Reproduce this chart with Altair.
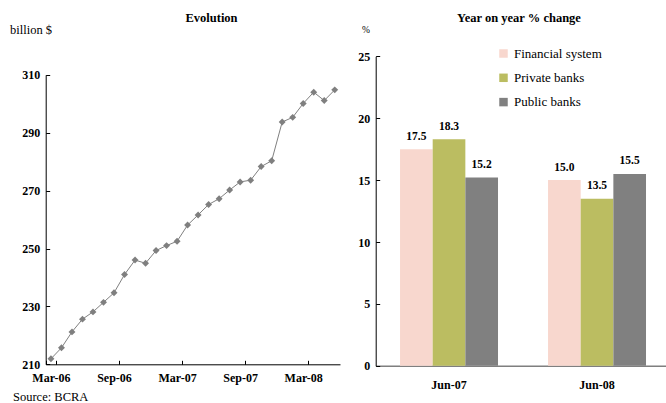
import altair as alt
import pandas as pd

FONT = "Liberation Serif"

# Monthly deposits, billion $
months = [
    "Mar-06", "Apr-06", "May-06", "Jun-06", "Jul-06", "Aug-06", "Sep-06",
    "Oct-06", "Nov-06", "Dec-06", "Jan-07", "Feb-07", "Mar-07", "Apr-07",
    "May-07", "Jun-07", "Jul-07", "Aug-07", "Sep-07", "Oct-07", "Nov-07",
    "Dec-07", "Jan-08", "Feb-08", "Mar-08", "Apr-08", "May-08", "Jun-08",
]
deposits = [
    211.9, 215.7, 221.2, 225.6, 228.1, 231.4, 234.7,
    241.0, 246.0, 244.9, 249.3, 251.0, 252.5, 258.1,
    261.6, 265.2, 267.2, 270.2, 273.0, 273.6, 278.3,
    280.3, 293.7, 295.3, 300.1, 304.0, 301.1, 304.8,
]
month_labels = ["Mar-06", "Sep-06", "Mar-07", "Sep-07", "Mar-08"]
deposit_ticks = [210, 230, 250, 270, 290, 310]

# Year on year % change
periods = ["Jun-07", "Jun-08"]
groups = ["Financial system", "Private banks", "Public banks"]
change_jun07 = [17.5, 18.3, 15.2]
change_jun08 = [15.0, 13.5, 15.5]
group_colors = ["#F8D7CE", "#BBBD61", "#808080"]
change_ticks = [0, 5, 10, 15, 20, 25]

W, H = 666, 403

evo = pd.DataFrame({"month": months, "deposits": deposits})
chg = pd.DataFrame({
    "period": [periods[0]] * 3 + [periods[1]] * 3,
    "group": groups * 2,
    "change": change_jun07 + change_jun08,
})

# ---- left panel: evolution ----
x_evo = alt.X(
    "month:N",
    sort=months,
    scale=alt.Scale(type="band", domain=months, range=[45.7, 340],
                    paddingInner=0, paddingOuter=0),
    axis=alt.Axis(
        orient="bottom", offset=-(H - 364.3), values=month_labels,
        tickBand="extent", tickExtra=False, tickSize=alt.ExprRef(expr="-4"),
        labelAngle=0, labelPadding=12, title=None,
    ),
)
y_evo = alt.Y(
    "deposits:Q",
    scale=alt.Scale(domain=[210, 310], range=[364.3, 74.8], nice=False, zero=False),
    axis=alt.Axis(
        orient="left", offset=-45.7, values=deposit_ticks,
        tickSize=alt.ExprRef(expr="-4"), labelPadding=10, title=None,
    ),
)
evo_line = alt.Chart(evo).mark_line(color="#808080", strokeWidth=1).encode(x=x_evo, y=y_evo)
evo_pts = alt.Chart(evo).mark_point(
    shape="diamond", filled=True, size=48, color="#7F7F7F", opacity=1
).encode(x=x_evo, y=y_evo)
left = alt.layer(evo_line, evo_pts)

# ---- right panel: year on year change ----
x_chg = alt.X(
    "period:N",
    sort=periods,
    scale=alt.Scale(type="band", domain=periods, range=[375.7, 666],
                    paddingInner=0.338, paddingOuter=0.1497, align=0.549),
    axis=alt.Axis(
        orient="bottom", offset=-(H - 365.8), ticks=False,
        domainColor="#7F7F7F", domainWidth=1.5,
        labelAngle=0, labelPadding=14, title=None,
    ),
)
xo_chg = alt.XOffset(
    "group:N", sort=groups,
    scale=alt.Scale(domain=groups, paddingInner=0, paddingOuter=0),
)
y_chg = alt.Y(
    "change:Q",
    scale=alt.Scale(domain=[0, 25], range=[365.8, 56.3], nice=False),
    axis=alt.Axis(
        orient="left", offset=-375.7, values=change_ticks,
        tickSize=alt.ExprRef(expr="-4"), labelPadding=10, title=None,
    ),
)
bars = alt.Chart(chg).mark_bar().encode(
    x=x_chg, xOffset=xo_chg, y=y_chg,
    color=alt.Color(
        "group:N", sort=groups,
        scale=alt.Scale(domain=groups, range=group_colors),
        legend=alt.Legend(
            orient="none", legendX=497, legendY=47, title=None,
            symbolType="square", symbolSize=72, symbolStrokeWidth=0,
            labelFont=FONT, labelFontSize=13, labelColor="black",
            labelOffset=4, rowPadding=10.3, padding=0,
        ),
    ),
)
bar_labels = alt.Chart(chg).mark_text(
    dy=-9.5, font=FONT, fontSize=11.5, fontWeight="bold", color="black",
    baseline="alphabetic",
).encode(x=x_chg, xOffset=xo_chg, y=y_chg, text=alt.Text("change:Q", format=".1f"))
right = alt.layer(bars, bar_labels)


# ---- titles and notes ----
def note(text, x, y, size, weight="normal", align="left"):
    return alt.Chart(pd.DataFrame({"t": [text]})).mark_text(
        font=FONT, fontSize=size, fontWeight=weight, align=align,
        baseline="alphabetic", color="black",
    ).encode(x=alt.value(x), y=alt.value(y), text="t:N")


notes = [
    note("Evolution", 211.5, 22, 12.5, "bold", "center"),
    note("Year on year % change", 519, 22, 12.5, "bold", "center"),
    note("billion $", 10, 33.5, 12.5),
    note("%", 362, 33, 9.5),
    note("Source: BCRA", 13, 400.5, 12.5),
]

chart = (
    alt.layer(left, right, *notes)
    .resolve_scale(x="independent", y="independent")
    .properties(width=W, height=H, autosize=alt.AutoSizeParams(type="none"), padding=0)
    .configure_view(stroke=None)
    .configure_axis(
        grid=False, labelFont=FONT, labelFontSize=12, labelFontWeight="bold",
        labelColor="black", domainColor="black", tickColor="black",
    )
)

chart.save("out.html", embed_options={"renderer": "svg", "actions": False})
